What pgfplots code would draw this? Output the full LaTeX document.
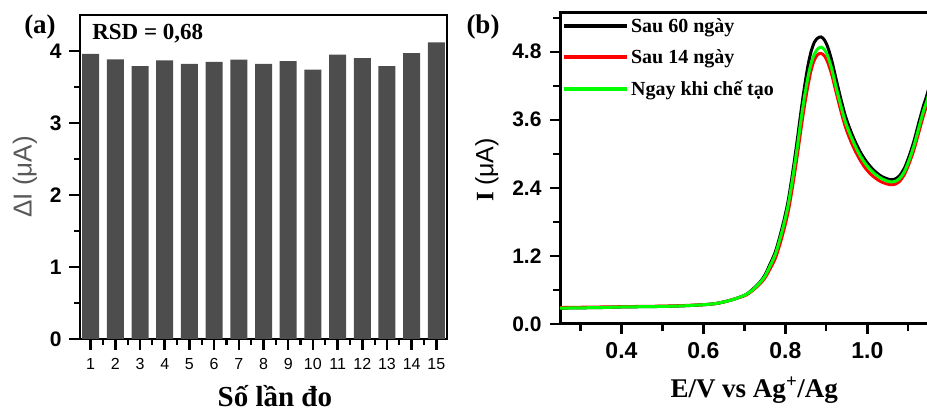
\documentclass[border=0pt]{standalone}
\usepackage{fontspec}
\setmainfont{Liberation Serif}
\newfontfamily\arial{Liberation Sans}
\usepackage{pgfplots}
\pgfplotsset{compat=1.18}
\definecolor{bargray}{HTML}{4D4D4D}
\definecolor{brightgreen}{HTML}{00FF00}
\begin{document}
\begin{tikzpicture}[x=1pt,y=1pt]
\useasboundingbox (0,0) rectangle (927,415);
% ---------------- panel (a)
\begin{axis}[
  at={(80pt,76pt)}, anchor=south west, scale only axis,
  width=367pt, height=324pt,
  xmin=0.57, xmax=15.43, ymin=0, ymax=4.5,
  ybar, bar width=17pt,
  xtick={1,...,15}, minor xtick={1.5,2.5,...,14.5},
  ytick={0,1,2,3,4}, minor ytick={0.5,1.5,2.5,3.5},
  tick align=outside, tick pos=left,
  major tick length=11pt, minor tick length=6pt,
  tick style={line width=2.6pt, black},
  major tick style={line width=2.6pt, black},
  minor tick style={line width=2.2pt, black},
  axis line style={line width=2.8pt},
  /pgf/number format/assume math mode=true,
  yticklabel style={font=\arial\bfseries\fontsize{21}{21}\selectfont, xshift=-4pt},
  xticklabel style={font=\arial\fontsize{16}{16}\selectfont, yshift=-5pt},
  xticklabels={{\arial 1},{\arial 2},{\arial 3},{\arial 4},{\arial 5},{\arial 6},{\arial 7},{\arial 8},{\arial 9},{\arial 10},{\arial 11},{\arial 12},{\arial 13},{\arial 14},{\arial 15}},
  ylabel={ΔI (μA)},
  ylabel style={at={(axis description cs:-0.15,0.5)}, anchor=center,
    font=\arial\fontsize{26}{26}\selectfont, text=black!65},
  xlabel={Số lần đo},
  xlabel style={at={(axis description cs:0.531,-0.209)}, anchor=base,
    inner sep=0pt, font=\bfseries\fontsize{29}{29}\selectfont},
]
\addplot[fill=bargray, draw=none] coordinates {
 (1,3.96) (2,3.885) (3,3.79) (4,3.87) (5,3.82) (6,3.85) (7,3.88) (8,3.82)
 (9,3.86) (10,3.74) (11,3.95) (12,3.90) (13,3.79) (14,3.97) (15,4.12)};
\node[anchor=west, font=\bfseries\fontsize{23}{23}\selectfont, inner sep=0pt]
  at (rel axis cs:0.033,0.944) {RSD = 0,68};
\end{axis}
\node[font=\bfseries\fontsize{27}{27}\selectfont] at (40,388) {(a)};
% ---------------- panel (b)
\begin{axis}[
  at={(560pt,91pt)}, anchor=south west, scale only axis,
  width=377pt, height=312pt,
  xmin=0.25, xmax=1.17, ymin=0, ymax=5.5,
  xtick={0.4,0.6,0.8,1.0}, minor xtick={0.3,0.5,0.7,0.9,1.1},
  ytick={0,1.2,2.4,3.6,4.8}, minor ytick={0.6,1.8,3.0,4.2,5.4},
  tick align=outside, tick pos=left,
  major tick length=10pt, minor tick length=7pt,
  tick style={line width=2.4pt, black},
  major tick style={line width=2.4pt, black},
  minor tick style={line width=2.2pt, black},
  axis line style={line width=3pt},
  /pgf/number format/assume math mode=true,
  /pgf/number format/.cd, fixed, fixed zerofill, precision=1, /pgfplots/.cd,
  yticklabel style={font=\arial\bfseries\fontsize{21}{21}\selectfont, xshift=-5pt},
  xticklabel style={font=\arial\bfseries\fontsize{23}{23}\selectfont, yshift=-5pt},
  ylabel={\textbf{I} {\arial(μA)}},
  ylabel style={at={(axis description cs:-0.194,0.494)}, anchor=center,
    font=\fontsize{25}{25}\selectfont},
  xlabel={E/V vs Ag\textsuperscript{+}/Ag},
  xlabel style={at={(axis description cs:0.515,-0.212)}, anchor=center,
    font=\bfseries\fontsize{27}{27}\selectfont},
  legend cell align=left,
  legend image code/.code={\draw[#1, line width=4pt] (0pt,0pt) -- (63pt,0pt);},
  legend style={at={(axis description cs:0.005,1)}, anchor=north west,
    draw=none, fill=none, inner xsep=0pt, inner ysep=0pt, yshift=-4pt,
    row sep=12pt, font=\bfseries\fontsize{20}{20}\selectfont,
    nodes={inner sep=2pt},
    /tikz/every even column/.append style={column sep=6pt}},
]
\addplot[black, line width=3pt, smooth] coordinates {
 (0.25,0.28) (0.30,0.285) (0.35,0.29) (0.40,0.30) (0.45,0.305) (0.50,0.31)
 (0.55,0.32) (0.60,0.34) (0.63,0.36) (0.656,0.40) (0.68,0.45) (0.704,0.52)
 (0.72,0.61) (0.737,0.73) (0.75,0.86) (0.761,1.03) (0.775,1.26) (0.786,1.53)
 (0.796,1.81) (0.806,2.14) (0.814,2.49) (0.822,2.88) (0.830,3.30) (0.838,3.74)
 (0.846,4.15) (0.855,4.55) (0.863,4.81) (0.871,4.97) (0.879,5.04) (0.887,5.06)
 (0.895,5.01) (0.903,4.89) (0.913,4.65) (0.924,4.31) (0.936,3.95) (0.948,3.63)
 (0.964,3.32) (0.980,3.07) (0.996,2.88) (1.013,2.73) (1.033,2.61) (1.053,2.55)
 (1.066,2.55) (1.078,2.61) (1.090,2.74) (1.102,2.96) (1.114,3.23) (1.126,3.56)
 (1.138,3.87) (1.146,4.05) (1.17,4.7)};
\addlegendentry{Sau 60 ngày}
\addplot[red, line width=3pt, smooth] coordinates {
 (0.25,0.29) (0.30,0.295) (0.35,0.30) (0.40,0.305) (0.45,0.31) (0.50,0.315)
 (0.55,0.325) (0.60,0.34) (0.63,0.36) (0.656,0.40) (0.68,0.45) (0.704,0.51)
 (0.72,0.59) (0.737,0.70) (0.75,0.81) (0.761,0.95) (0.775,1.15) (0.786,1.39)
 (0.796,1.65) (0.806,1.95) (0.814,2.27) (0.822,2.63) (0.830,3.02) (0.838,3.43)
 (0.846,3.82) (0.855,4.20) (0.863,4.48) (0.871,4.66) (0.879,4.75) (0.887,4.77)
 (0.895,4.73) (0.903,4.62) (0.913,4.40) (0.924,4.08) (0.936,3.74) (0.948,3.44)
 (0.964,3.15) (0.980,2.92) (0.996,2.74) (1.013,2.61) (1.033,2.51) (1.053,2.46)
 (1.066,2.46) (1.078,2.51) (1.090,2.63) (1.102,2.83) (1.114,3.08) (1.126,3.39)
 (1.138,3.70) (1.146,3.88) (1.17,4.5)};
\addlegendentry{Sau 14 ngày}
\addplot[brightgreen, line width=3pt, smooth] coordinates {
 (0.25,0.28) (0.30,0.285) (0.35,0.29) (0.40,0.30) (0.45,0.305) (0.50,0.31)
 (0.55,0.32) (0.60,0.34) (0.63,0.36) (0.656,0.40) (0.68,0.45) (0.704,0.52)
 (0.72,0.60) (0.737,0.72) (0.75,0.84) (0.761,1.00) (0.775,1.22) (0.786,1.48)
 (0.796,1.75) (0.806,2.07) (0.814,2.40) (0.822,2.77) (0.830,3.17) (0.838,3.59)
 (0.846,3.98) (0.855,4.35) (0.863,4.60) (0.871,4.76) (0.879,4.85) (0.887,4.88)
 (0.895,4.84) (0.903,4.73) (0.913,4.50) (0.924,4.17) (0.936,3.83) (0.948,3.53)
 (0.964,3.24) (0.980,3.00) (0.996,2.82) (1.013,2.68) (1.033,2.57) (1.053,2.51)
 (1.066,2.51) (1.078,2.56) (1.090,2.68) (1.102,2.89) (1.114,3.15) (1.126,3.47)
 (1.138,3.78) (1.146,3.95) (1.17,4.6)};
\addlegendentry{Ngay khi chế tạo}
\end{axis}
\node[font=\bfseries\fontsize{27}{27}\selectfont] at (483,388) {(b)};
\end{tikzpicture}
\end{document}
